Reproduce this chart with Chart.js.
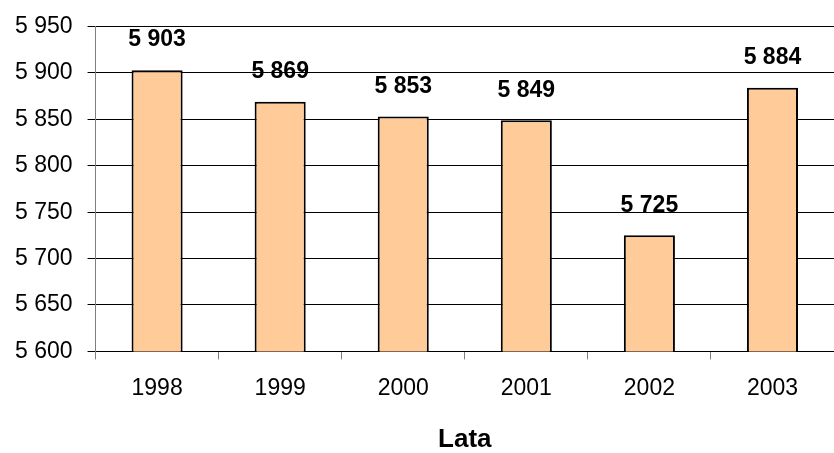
<!DOCTYPE html>
<html>
<head>
<meta charset="utf-8">
<script src="https://cdn.jsdelivr.net/npm/chart.js@4"></script>
<style>
  html, body { margin: 0; padding: 0; background: #fff; }
  #wrap { width: 834px; height: 453px; position: relative; }
</style>
</head>
<body>
<div id="wrap"><canvas id="c"></canvas></div>
<script>
const categories = ['1998', '1999', '2000', '2001', '2002', '2003'];
const values = [5903, 5869, 5853, 5849, 5725, 5884];
const yMin = 5600;
const yMax = 5950;
const yStep = 50;
const xTitle = 'Lata';

const FONT = '"Liberation Sans", Arial, sans-serif';
const fmt = v => {
  const s = String(Math.round(v));
  return s.replace(/\B(?=(\d{3})+(?!\d))/g, ' ');
};

const labelPlugin = {
  id: 'barLabels',
  afterDatasetsDraw(chart) {
    const ctx = chart.ctx;
    const meta = chart.getDatasetMeta(0);
    ctx.save();
    ctx.font = 'bold 23px ' + FONT;
    ctx.fillStyle = '#000';
    ctx.textAlign = 'center';
    ctx.textBaseline = 'middle';
    meta.data.forEach((bar, i) => {
      ctx.fillText(fmt(values[i]), bar.x, bar.y - 30);
    });
    ctx.restore();
  }
};

new Chart(document.getElementById('c'), {
  type: 'bar',
  data: {
    labels: categories,
    datasets: [{
      data: values,
      backgroundColor: '#FFCC99',
      borderColor: '#000000',
      borderWidth: 2,
      borderSkipped: false,
      categoryPercentage: 1,
      barPercentage: 0.415
    }]
  },
  options: {
    responsive: true,
    maintainAspectRatio: false,
    animation: false,
    devicePixelRatio: 1,
    layout: { padding: { top: 24, right: 0, left: 0, bottom: 0 } },
    plugins: { legend: { display: false }, tooltip: { enabled: false } },
    scales: {
      x: {
        offset: true,
        grid: {
          offset: true,
          drawOnChartArea: false,
          drawTicks: true,
          tickLength: 8,
          color: '#808080',
          lineWidth: 1
        },
        border: { display: true, color: '#000', width: 1 },
        ticks: {
          color: '#000',
          font: { family: FONT, size: 23 },
          padding: 15,
          maxRotation: 0
        },
        title: {
          display: true,
          text: xTitle,
          color: '#000',
          font: { family: FONT, size: 26, weight: 'bold', lineHeight: 1 },
          padding: { top: 10, bottom: 0 }
        }
      },
      y: {
        min: yMin,
        max: yMax,
        grid: {
          color: '#000',
          lineWidth: 1,
          drawTicks: true,
          tickLength: 8,
          tickColor: '#000'
        },
        border: { display: true, color: '#808080', width: 1 },
        ticks: {
          stepSize: yStep,
          color: '#000',
          font: { family: FONT, size: 23, lineHeight: 1 },
          padding: 15,
          callback: v => fmt(v)
        }
      }
    }
  },
  plugins: [labelPlugin]
});
</script>
</body>
</html>
